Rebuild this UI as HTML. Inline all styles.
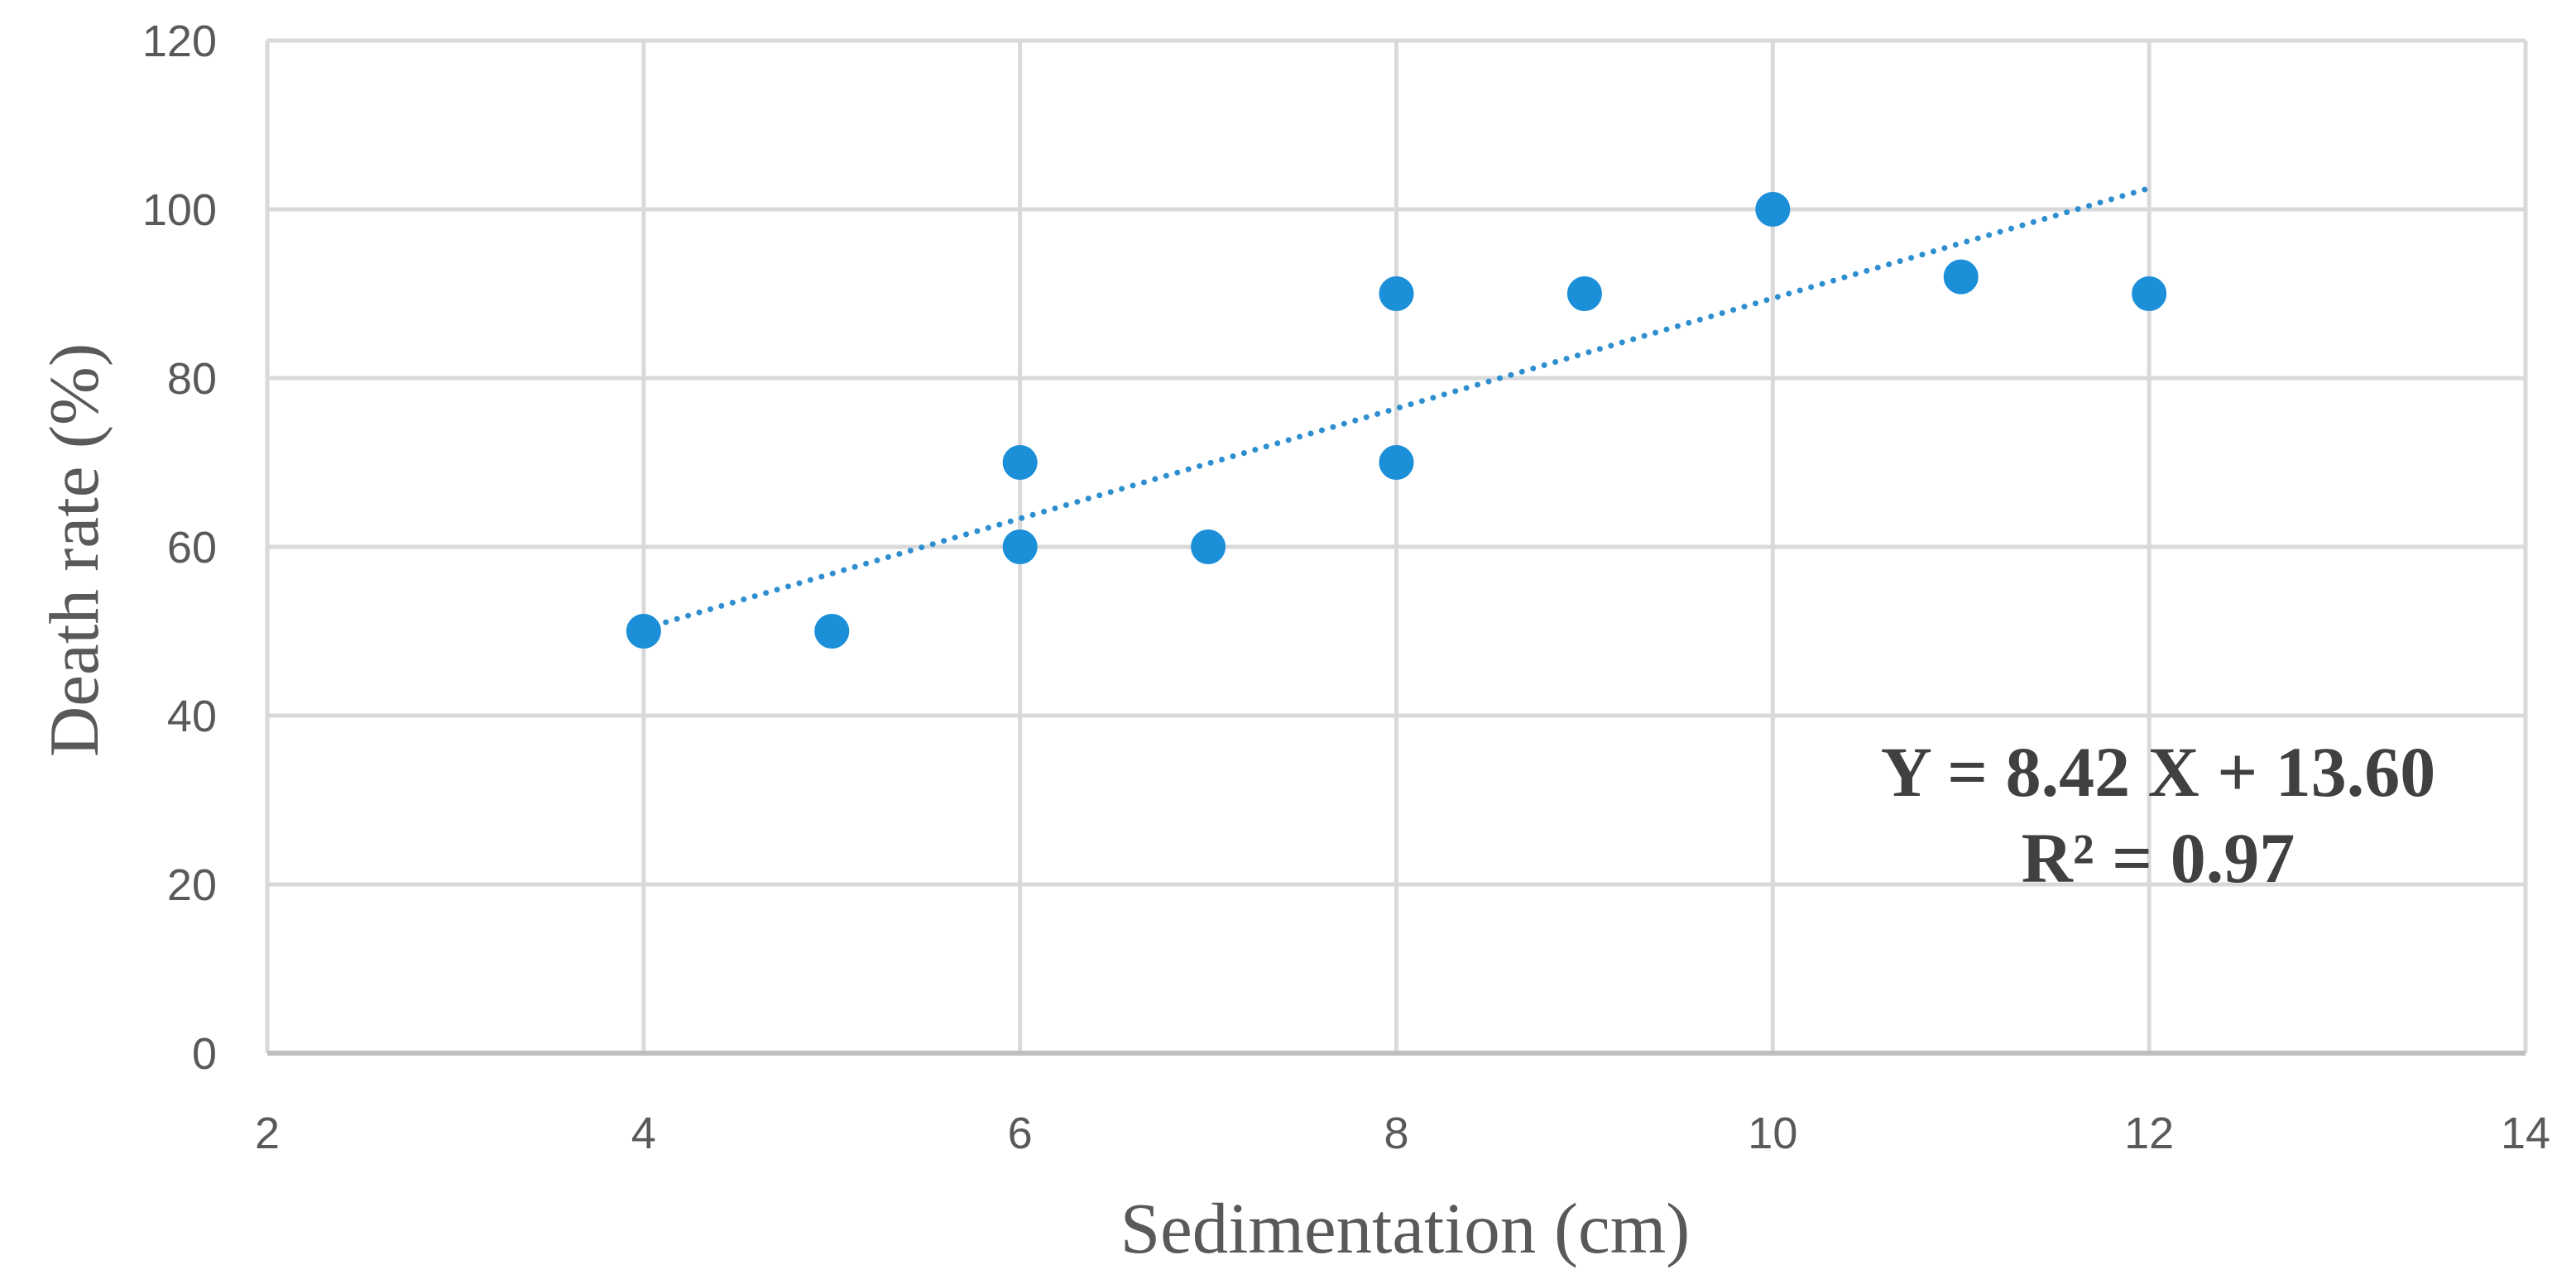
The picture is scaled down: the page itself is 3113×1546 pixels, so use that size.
<!DOCTYPE html>
<html><head><meta charset="utf-8"><style>
html,body{margin:0;padding:0;background:#fff;}
svg{display:block;}
</style></head><body>
<svg id="chart" width="3113" height="1546" xmlns="http://www.w3.org/2000/svg">
<g id="grid"></g>
<g id="ticks"></g>
<g id="trend"></g>
<g id="pts"></g>
<text transform="translate(118,665) rotate(-90)" text-anchor="middle" font-family="Liberation Serif, serif" font-size="85" fill="#595959">Death rate (%)</text>
<text x="1698" y="1514" text-anchor="middle" font-family="Liberation Serif, serif" font-size="87" fill="#595959">Sedimentation (cm)</text>
<text x="2608" y="962" text-anchor="middle" font-family="Liberation Serif, serif" font-weight="bold" font-size="86" fill="#404040">Y = 8.42 X + 13.60</text>
<text x="2608" y="1066" text-anchor="middle" font-family="Liberation Serif, serif" font-weight="bold" font-size="86" fill="#404040">R² = 0.97</text>
</svg>
<script>
const xTicks = [2,4,6,8,10,12,14];
const yTicks = [0,20,40,60,80,100,120];
const xValues = [4,5,6,6,7,8,8,9,10,11,12];
const yValues = [50,50,70,60,60,90,70,90,100,92,90];
const trendX = [4,12];
const trendY = [50.3,102.5];
const L=323,R=3052,T=49,B=1273;
const sx=v=>L+(v-2)/(12)*(R-L);
const sy=v=>B-v/120*(B-T);
const NS='http://www.w3.org/2000/svg';
function mk(tag,attrs,parent){const e=document.createElementNS(NS,tag);for(const k in attrs)e.setAttribute(k,attrs[k]);parent.appendChild(e);return e;}
const grid=document.getElementById('grid'),ticks=document.getElementById('ticks');
yTicks.forEach(v=>{
  const l=mk('line',{x1:L,x2:R,y1:sy(v),y2:sy(v),stroke:'#d9d9d9','stroke-width':5},grid);
  
  
  const t=mk('text',{x:262,y:sy(v)+19,'text-anchor':'end','font-family':'Liberation Sans, sans-serif','font-size':54,fill:'#595959'},ticks);
  t.textContent=v;
  
  
});
xTicks.forEach(v=>{
  const l=mk('line',{x1:sx(v),x2:sx(v),y1:T,y2:B,stroke:'#d9d9d9','stroke-width':5},grid);
  
  
  const t=mk('text',{x:sx(v),y:1388,'text-anchor':'middle','font-family':'Liberation Sans, sans-serif','font-size':54,fill:'#595959'},ticks);
  t.textContent=v;
  
  
});
const ax=mk('line',{x1:L,x2:R,y1:B,y2:B,stroke:'#bfbfbf','stroke-width':6},grid);


const tl=mk('line',{x1:sx(trendX[0]),y1:sy(trendY[0]),x2:sx(trendX[1]),y2:sy(trendY[1]),stroke:'#2e8fd0','stroke-width':7,'stroke-dasharray':'0 14','stroke-linecap':'round'},document.getElementById('trend'));


const pts=document.getElementById('pts');
xValues.forEach((x,i)=>{
  const c=mk('circle',{cx:sx(x),cy:sy(yValues[i]),r:20,fill:'#1b8fd8',stroke:'#1b8fd8','stroke-width':2},pts);
  
  
});
</script>
</body></html>
